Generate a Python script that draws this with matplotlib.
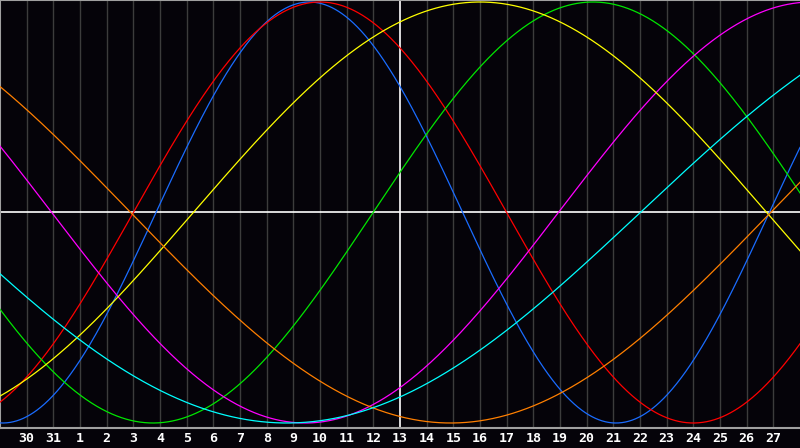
import numpy as np
import matplotlib
matplotlib.use('Agg')
import matplotlib.pyplot as plt

# day labels under each grid line (x = 1..29 days from the left edge)
day_labels = ['30', '31'] + [str(i) for i in range(1, 28)]
today_idx = 15   # "13" - the white vertical line

# cycle lengths (days) and day of peak
periods = [23, 28, 33, 38, 43, 48, 53]
peak_days = [11.6, 12.0, 22.24, 30.44, 18.0, 40.9, 37.26]
colors = ['#1a6cff', '#ff0000', '#00e600', '#ff00ff', '#ffff00', '#ff7f00', '#00ffff']

bg = '#050309'

fig = plt.figure(figsize=(8, 4.48), dpi=100, facecolor=bg)
ax = fig.add_axes([0, 20 / 448, 1, 428 / 448])
ax.set_facecolor(bg)

days = np.linspace(0, 30, 1201)
for p, pk, c in zip(periods, peak_days, colors):
    ax.plot(days, np.cos(2 * np.pi * (days - pk) / p), color=c, lw=0.9, zorder=3)

# grid lines
for k in range(1, 30):
    if k == today_idx:
        ax.axvline(k, color='white', lw=1.2, zorder=2)
    else:
        ax.axvline(k, color='#3c3c3c', lw=1, zorder=1)
ax.axhline(0, color='white', lw=1.2, zorder=2)

ax.set_xlim(0, 30)
ax.set_ylim((212.5 - 428) / 210.5, 212.5 / 210.5)

for s in ['top', 'left', 'bottom']:
    ax.spines[s].set_color('#a0a0a0')
    ax.spines[s].set_linewidth(1.5)
ax.spines['right'].set_visible(False)

ax.set_yticks([])
ax.set_xticks(range(1, 30))
ax.set_xticklabels(day_labels, color='white', fontsize=9.5, fontweight='bold',
                   family='DejaVu Sans Mono')
ax.tick_params(axis='x', length=0, pad=3)

fig.savefig('out.png', dpi=100, facecolor=bg)
